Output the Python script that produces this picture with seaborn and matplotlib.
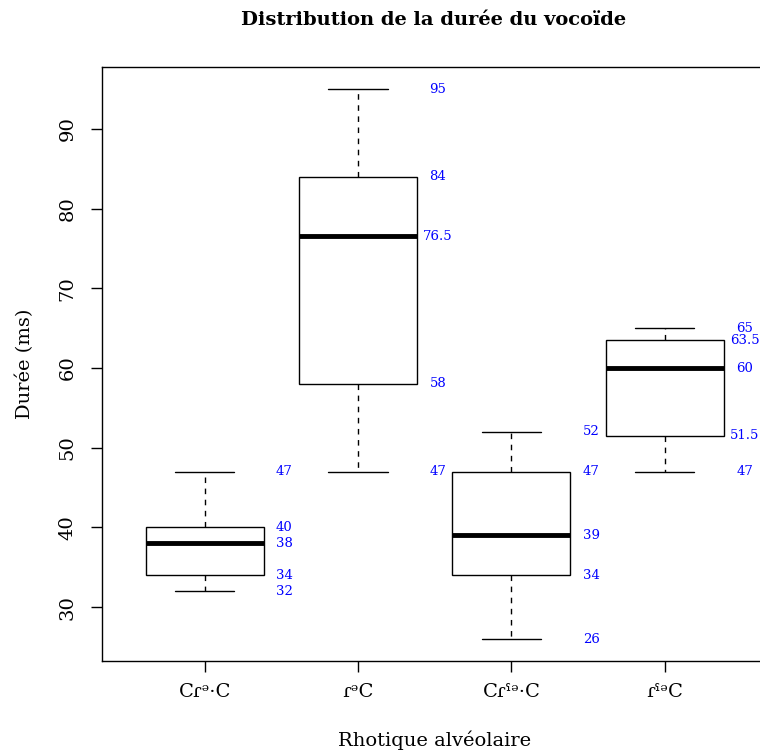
import numpy as np
import pandas as pd
import seaborn as sns
import matplotlib.pyplot as plt

categories = ['Cɾᵊ·C', 'ɾᵊC', 'Cɾˁᵊ·C', 'ɾˁᵊC']
g1 = [32, 34, 38, 40, 47]
g2 = [47, 58, 76.5, 84, 95]
g3 = [26, 34, 39, 47, 52]
g4 = [47, 51.5, 60, 63.5, 65]
groups = [g1, g2, g3, g4]

df = pd.DataFrame({
    'rhotique': np.repeat(categories, [len(g) for g in groups]),
    'duree': np.concatenate(groups),
})

sns.set_theme(style='ticks')
plt.rcParams['font.family'] = ['DejaVu Serif']
plt.rcParams['text.color'] = 'black'
plt.rcParams['axes.labelcolor'] = 'black'
plt.rcParams['xtick.color'] = 'black'
plt.rcParams['ytick.color'] = 'black'

fig = plt.figure(figsize=(7.6, 7.55), dpi=100)
ax = fig.add_axes([0.134, 0.1245, 0.876, 0.7867])

sns.boxplot(data=df, x='rhotique', y='duree', order=categories, ax=ax,
            color='white', linecolor='black', linewidth=1, width=0.77, whis=1.5,
            medianprops=dict(linewidth=3.5, color='black'),
            whiskerprops=dict(linestyle=(0, (4, 4)), color='black'),
            capprops=dict(color='black'),
            boxprops=dict(edgecolor='black', facecolor='white'))

# valeurs des statistiques en bleu
for i, g in enumerate(groups):
    st = [np.min(g), np.percentile(g, 25), np.median(g), np.percentile(g, 75), np.max(g)]
    for v in st:
        ax.text(i + 0.52, v, f'{v:g}', color='blue', fontsize=9.5,
                ha='center', va='center')

ax.set_xlim(-0.67, 3.67)
ax.set_ylim(23.24, 97.76)
ax.set_yticks([30, 40, 50, 60, 70, 80, 90])
for s in ax.spines.values():
    s.set_visible(True)
    s.set_linewidth(1)
    s.set_color('black')
ax.tick_params(axis='both', length=8, width=1, color='black', labelsize=14,
               labelcolor='black')
ax.tick_params(axis='x', pad=8)
ax.tick_params(axis='y', pad=10)
for lab in ax.get_yticklabels():
    lab.set_rotation(90)
    lab.set_va('center')

ax.set_xlabel('Rhotique alvéolaire', fontsize=14, labelpad=21)
ax.set_ylabel('Durée (ms)', fontsize=14, labelpad=18)
fig.suptitle('Distribution de la durée du vocoïde', fontsize=14,
             fontweight='bold', x=0.57, y=0.985)

fig.savefig('out.png', dpi=100)
